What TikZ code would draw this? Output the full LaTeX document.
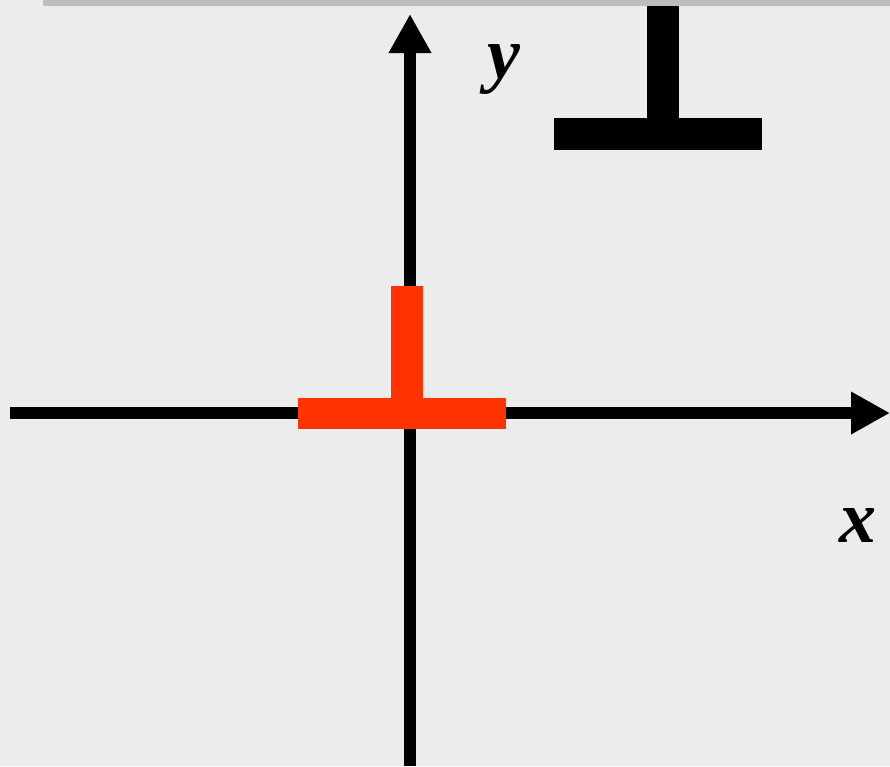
\documentclass[tikz,border=0pt]{standalone}
\usepackage{fontspec}
\setmainfont{Liberation Serif}
\usetikzlibrary{arrows.meta}
\definecolor{bgcol}{HTML}{ECECEC}
\definecolor{barcol}{HTML}{BDBDBD}
\definecolor{redT}{HTML}{FF3300}
\tikzset{
  axis/.style={line width=12pt, -{Triangle[length=39pt,width=40pt]}},
  axislabel/.style={font=\fontsize{74}{74}\selectfont\bfseries\itshape, anchor=base, inner sep=0pt},
}
\begin{document}
\begin{tikzpicture}[x=1pt,y=-1pt]
\useasboundingbox (0,0) rectangle (890,766);
\fill[bgcol] (0,0) rectangle (890,766);
\fill[barcol] (43,0) rectangle (890,6);
% axes
\coordinate (xs) at (10,413);
\coordinate (xe) at (890,413);
\coordinate (ys) at (410,766);
\coordinate (ye) at (410,14);
\draw[axis] (xs) -- (xe);
\draw[axis] (ys) -- (ye);
% labels
\node[axislabel] (xl) at (858,542) {x};
\node[axislabel] (yl) at (504,78) {y};
% black T
\fill[black] (647,6) rectangle (679,119);
\fill[black] (554,118) rectangle (762,150);
% red T
\fill[redT] (391,286) rectangle (423,399);
\fill[redT] (298,398) rectangle (506,429);
\end{tikzpicture}
\end{document}
